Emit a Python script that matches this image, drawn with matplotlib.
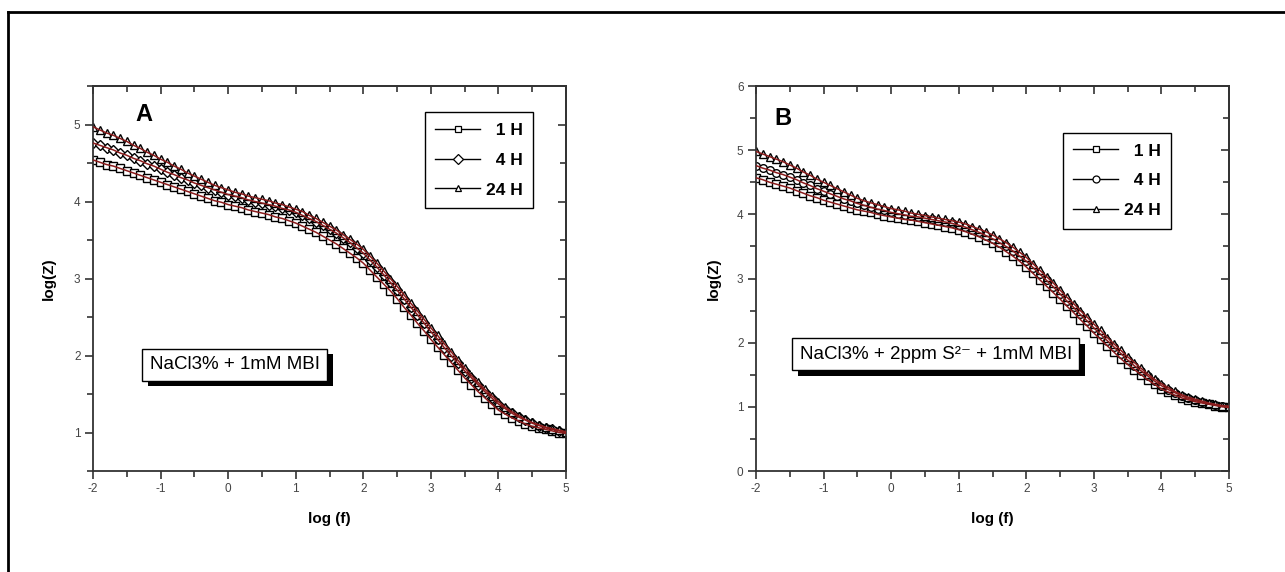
import numpy as np
import matplotlib
matplotlib.use("Agg")
import matplotlib.pyplot as plt
import matplotlib.patheffects as pe
from matplotlib.lines import Line2D
from matplotlib.ticker import MultipleLocator

plt.rcParams['font.family'] = ['Liberation Sans', 'DejaVu Sans']
plt.rcParams['axes.unicode_minus'] = False
SANS = ['Liberation Sans', 'DejaVu Sans']

# log(f) sweep, 10 points per decade
log_f = [-2.0, -1.9, -1.8, -1.7, -1.6, -1.5, -1.4, -1.3, -1.2, -1.1,
         -1.0, -0.9, -0.8, -0.7, -0.6, -0.5, -0.4, -0.3, -0.2, -0.1,
         0.0, 0.1, 0.2, 0.3, 0.4, 0.5, 0.6, 0.7, 0.8, 0.9,
         1.0, 1.1, 1.2, 1.3, 1.4, 1.5, 1.6, 1.7, 1.8, 1.9,
         2.0, 2.1, 2.2, 2.3, 2.4, 2.5, 2.6, 2.7, 2.8, 2.9,
         3.0, 3.1, 3.2, 3.3, 3.4, 3.5, 3.6, 3.7, 3.8, 3.9,
         4.0, 4.1, 4.2, 4.3, 4.4, 4.5, 4.6, 4.7, 4.8, 4.9, 5.0]

# panel A : NaCl3% + 1mM MBI
a_1h = [4.54, 4.51, 4.48, 4.46, 4.43, 4.40, 4.37, 4.34, 4.31, 4.28,
        4.25, 4.22, 4.19, 4.16, 4.13, 4.10, 4.07, 4.04, 4.01, 3.99,
        3.96, 3.94, 3.92, 3.89, 3.87, 3.85, 3.83, 3.80, 3.78, 3.75,
        3.72, 3.68, 3.64, 3.60, 3.55, 3.50, 3.45, 3.39, 3.33, 3.27,
        3.20, 3.11, 3.02, 2.93, 2.84, 2.74, 2.63, 2.53, 2.42, 2.32,
        2.21, 2.11, 2.01, 1.91, 1.81, 1.71, 1.62, 1.53, 1.45, 1.37,
        1.29, 1.24, 1.19, 1.15, 1.11, 1.08, 1.06, 1.04, 1.02, 1.00, 0.99]
a_4h = [4.76, 4.73, 4.70, 4.67, 4.63, 4.60, 4.56, 4.53, 4.49, 4.46,
        4.42, 4.38, 4.35, 4.31, 4.28, 4.24, 4.21, 4.18, 4.15, 4.12,
        4.09, 4.07, 4.05, 4.02, 4.00, 3.98, 3.96, 3.94, 3.91, 3.89,
        3.86, 3.82, 3.78, 3.74, 3.69, 3.64, 3.59, 3.53, 3.47, 3.40,
        3.33, 3.24, 3.15, 3.05, 2.95, 2.85, 2.74, 2.63, 2.53, 2.42,
        2.31, 2.21, 2.10, 2.00, 1.90, 1.80, 1.71, 1.62, 1.53, 1.45,
        1.37, 1.31, 1.25, 1.20, 1.16, 1.12, 1.09, 1.06, 1.04, 1.02, 1.00]
a_24h = [4.97, 4.93, 4.89, 4.86, 4.82, 4.78, 4.73, 4.69, 4.64, 4.60,
         4.55, 4.51, 4.46, 4.42, 4.37, 4.33, 4.29, 4.25, 4.21, 4.18,
         4.15, 4.12, 4.10, 4.07, 4.05, 4.03, 4.01, 3.98, 3.96, 3.93,
         3.90, 3.87, 3.82, 3.78, 3.73, 3.68, 3.63, 3.57, 3.51, 3.45,
         3.38, 3.29, 3.20, 3.10, 3.00, 2.90, 2.79, 2.68, 2.58, 2.47,
         2.36, 2.26, 2.15, 2.05, 1.94, 1.84, 1.74, 1.65, 1.56, 1.48,
         1.40, 1.33, 1.27, 1.22, 1.17, 1.13, 1.10, 1.07, 1.05, 1.03, 1.01]

# panel B : NaCl3% + 2ppm S2- + 1mM MBI
b_1h = [4.57, 4.54, 4.50, 4.47, 4.44, 4.41, 4.37, 4.33, 4.29, 4.26,
        4.22, 4.19, 4.16, 4.13, 4.10, 4.07, 4.05, 4.03, 4.00, 3.98,
        3.96, 3.94, 3.92, 3.91, 3.89, 3.87, 3.85, 3.83, 3.81, 3.79,
        3.76, 3.73, 3.69, 3.65, 3.60, 3.55, 3.49, 3.42, 3.35, 3.27,
        3.18, 3.08, 2.98, 2.88, 2.78, 2.68, 2.57, 2.47, 2.36, 2.26,
        2.15, 2.05, 1.95, 1.85, 1.75, 1.66, 1.58, 1.50, 1.42, 1.35,
        1.28, 1.23, 1.18, 1.14, 1.11, 1.08, 1.06, 1.04, 1.02, 1.00, 0.99]
b_4h = [4.76, 4.72, 4.69, 4.65, 4.62, 4.58, 4.54, 4.49, 4.45, 4.40,
        4.36, 4.32, 4.28, 4.24, 4.21, 4.17, 4.14, 4.11, 4.08, 4.06,
        4.03, 4.01, 3.99, 3.97, 3.96, 3.94, 3.92, 3.90, 3.88, 3.86,
        3.83, 3.80, 3.76, 3.72, 3.67, 3.62, 3.56, 3.50, 3.43, 3.35,
        3.27, 3.17, 3.07, 2.97, 2.87, 2.76, 2.65, 2.55, 2.44, 2.34,
        2.23, 2.13, 2.03, 1.93, 1.83, 1.73, 1.64, 1.56, 1.48, 1.40,
        1.33, 1.27, 1.22, 1.17, 1.13, 1.10, 1.07, 1.05, 1.03, 1.01, 1.00]
b_24h = [4.98, 4.94, 4.90, 4.86, 4.82, 4.77, 4.72, 4.66, 4.61, 4.55,
         4.50, 4.45, 4.40, 4.35, 4.30, 4.25, 4.21, 4.18, 4.15, 4.12,
         4.09, 4.07, 4.05, 4.02, 4.00, 3.98, 3.96, 3.94, 3.92, 3.90,
         3.88, 3.85, 3.81, 3.77, 3.73, 3.68, 3.62, 3.56, 3.49, 3.41,
         3.33, 3.23, 3.13, 3.03, 2.93, 2.82, 2.71, 2.61, 2.50, 2.40,
         2.29, 2.19, 2.08, 1.98, 1.88, 1.78, 1.69, 1.60, 1.51, 1.43,
         1.36, 1.30, 1.24, 1.19, 1.15, 1.12, 1.09, 1.06, 1.04, 1.02, 1.01]

labels = ['  1 H', '  4 H', '24 H']
x_ticks = [-2, -1, 0, 1, 2, 3, 4, 5]

W, H = 1285, 572
fig = plt.figure(figsize=(W / 100, H / 100), dpi=100)

# outer frame (open at right / bottom like the scan)
fig.add_artist(Line2D([8 / W, 8 / W], [0, 1 - 12 / H], color='black', lw=2))
fig.add_artist(Line2D([8 / W, 1], [1 - 12 / H, 1 - 12 / H], color='black', lw=2))

line_red = '#8b1c1c'
spine_col = '#333333'


def make_panel(left, ylim, yticks, series, markers, letter, letter_xy,
               note, note_xy, leg_anchor, ylab_x):
    ax = fig.add_axes([left / W, (H - 471) / H, 473 / W, 385 / H])
    for s, m in zip(series, markers):
        ax.plot(log_f, s, linestyle='none', marker=m, ms=5.5, mfc='white',
                mec='black', mew=1.0, zorder=2)
        ax.plot(log_f, s, color=line_red, lw=1.1, zorder=3)
    ax.set_xlim(-2, 5)
    ax.set_ylim(*ylim)
    ax.set_xticks(x_ticks)
    ax.set_yticks(yticks)
    ax.xaxis.set_minor_locator(MultipleLocator(0.5))
    ax.yaxis.set_minor_locator(MultipleLocator(0.5))
    ax.tick_params(which='major', direction='out', length=6, width=1.2,
                   colors=spine_col, labelsize=8.5, labelcolor='#444444', pad=3)
    ax.tick_params(which='minor', direction='out', length=4, width=1.2,
                   colors=spine_col)
    for sp in ax.spines.values():
        sp.set_color(spine_col)
        sp.set_linewidth(1.3)
    # mirrored ticks on top / right, pointing inwards
    top = ax.secondary_xaxis('top')
    top.set_xticks(x_ticks)
    top.xaxis.set_minor_locator(MultipleLocator(0.5))
    top.tick_params(which='both', direction='in', labeltop=False,
                    colors=spine_col, width=1.2)
    top.tick_params(which='major', length=6)
    top.tick_params(which='minor', length=4)
    right = ax.secondary_yaxis('right')
    right.set_yticks(yticks)
    right.yaxis.set_minor_locator(MultipleLocator(0.5))
    right.tick_params(which='both', direction='in', labelright=False,
                      colors=spine_col, width=1.2)
    right.tick_params(which='major', length=6)
    right.tick_params(which='minor', length=4)
    for sec in (top, right):
        for sp in sec.spines.values():
            sp.set_color(spine_col)
            sp.set_linewidth(1.3)

    ax.set_xlabel('log (f)', fontsize=11, fontweight='bold', family=SANS,
                  labelpad=12)
    ax.set_ylabel('log(Z)', fontsize=11, fontweight='bold', family=SANS)
    ax.yaxis.set_label_coords(ylab_x, 0.5)

    ax.text(*letter_xy, letter, fontsize=17, fontweight='bold',
            ha='center', va='center')

    t = ax.text(*note_xy, note, fontsize=13.5, family=SANS, ha='center',
                va='center', zorder=5,
                bbox=dict(boxstyle='square,pad=0.4', fc='white', ec='black',
                          lw=1.0))
    t.get_bbox_patch().set_path_effects([
        pe.SimplePatchShadow(offset=(4, -4), shadow_rgbFace='black', alpha=1),
        pe.Normal()])

    handles = [Line2D([], [], color='black', lw=1.0, marker=m, ms=5,
                      mfc='white', mec='black', mew=0.9) for m in markers]
    leg = ax.legend(handles, labels, loc='upper right',
                    bbox_to_anchor=leg_anchor, borderaxespad=0,
                    fancybox=False, framealpha=1, edgecolor='black',
                    handlelength=2.6, handletextpad=0.3, labelspacing=0.85,
                    borderpad=0.6,
                    prop={'family': SANS, 'weight': 'bold', 'size': 12.5})
    leg.get_frame().set_linewidth(1.0)
    return ax


make_panel(93, (0.5, 5.5), [1, 2, 3, 4, 5], [a_1h, a_4h, a_24h],
           ['s', 'D', '^'], 'A', (-1.25, 5.13),
           'NaCl3% + 1mM MBI', (0.1, 1.88), (0.93, 0.932), -0.078)

make_panel(756, (0, 6), [0, 1, 2, 3, 4, 5, 6], [b_1h, b_4h, b_24h],
           ['s', 'o', '^'], 'B', (-1.6, 5.5),
           'NaCl3% + 2ppm S\u00b2\u207b + 1mM MBI', (0.66, 1.82),
           (0.877, 0.878), -0.074)

fig.savefig('out.png', dpi=100, facecolor='white')
